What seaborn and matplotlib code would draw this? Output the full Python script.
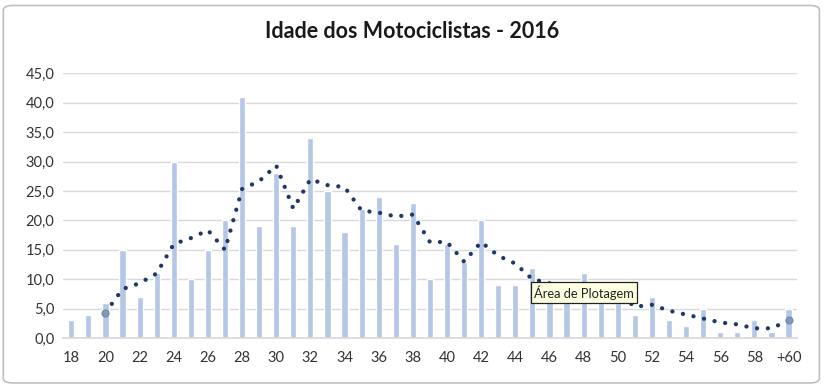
import numpy as np
import pandas as pd
import matplotlib
matplotlib.use("Agg")
import matplotlib.pyplot as plt
import seaborn as sns
from matplotlib.patches import FancyBboxPatch
from matplotlib.ticker import FuncFormatter

# idades (18 a 59 e +60) e quantidade de motociclistas
idades = [str(i) for i in range(18, 60)] + ["+60"]
quantidade = [3, 4, 6, 15, 7, 11, 30, 10, 15, 20,
              41, 19, 28, 19, 34, 25, 18, 22, 24, 16,
              23, 10, 16, 13, 20, 9, 9, 12, 7, 8,
              11, 6, 6, 4, 7, 3, 2, 5, 1, 1,
              3, 1, 5]
titulo = "Idade dos Motociclistas - 2016"
y_ticks = [0, 5, 10, 15, 20, 25, 30, 35, 40, 45]

df = pd.DataFrame({"idade": idades, "qtd": quantidade})
df["pos"] = np.arange(len(df))
# linha de tendência: média móvel de 3 períodos (como no Excel)
df["media"] = df["qtd"].rolling(3).mean()

sns.set_theme(style="white")
plt.rcParams["font.family"] = ["Lato", "DejaVu Sans"]

fig = plt.figure(figsize=(8.26, 3.9), dpi=100)
ax = fig.add_axes([0.076, 0.133, 0.889, 0.679])

sns.barplot(data=df, x="idade", y="qtd", order=idades, color="#B4C7E7",
            saturation=1, width=0.36, ax=ax, zorder=2)

tend = df.dropna(subset=["media"])
ax.plot(tend["pos"], tend["media"], color="#1F3864", lw=3.1,
        linestyle=(0, (0.01, 2.5)), dash_capstyle="round", zorder=3)
ax.plot(tend["pos"].iloc[[0, -1]], tend["media"].iloc[[0, -1]], "o",
        ms=5.2, color="#7E9BBA", mec="#6A87A6", mew=0.6, zorder=4)

ax.set_xlim(-0.5, len(idades) - 0.5)
ax.set_ylim(0, 45)
ax.set_yticks(y_ticks)
ax.yaxis.set_major_formatter(FuncFormatter(lambda v, p: f"{v:.1f}".replace(".", ",")))
ax.set_xticks(range(0, len(idades), 2))
ax.set_xticklabels(idades[::2])
ax.grid(axis="y", color="#D9D9D9", lw=1, zorder=0)
ax.set_axisbelow(True)
ax.tick_params(axis="both", length=0, labelsize=10.5, labelcolor="#333333", pad=6)
ax.tick_params(axis="x", pad=9)
ax.set_xlabel("")
ax.set_ylabel("")
for s in ["top", "right", "left"]:
    ax.spines[s].set_visible(False)
ax.spines["bottom"].set_color("#D9D9D9")

fig.text(0.499, 0.918, titulo, ha="center", va="center", fontsize=15.5,
         fontweight="bold", color="#1a1a1a")

# dica de tela do Excel
ax.annotate("Área de Plotagem", xy=(27.1, 7.7), fontsize=9.3, color="#222222",
            va="center", ha="left", zorder=6,
            bbox=dict(boxstyle="square,pad=0.25", fc="#FFFFE1", ec="#222222", lw=0.9))

# moldura do gráfico
fig.patches.append(FancyBboxPatch((0.004, 0.018), 0.988, 0.968,
                                  boxstyle="round,pad=0,rounding_size=0.012",
                                  transform=fig.transFigure, fc="none",
                                  ec="#BFBFBF", lw=1.2))

fig.savefig("out.png", dpi=100)
